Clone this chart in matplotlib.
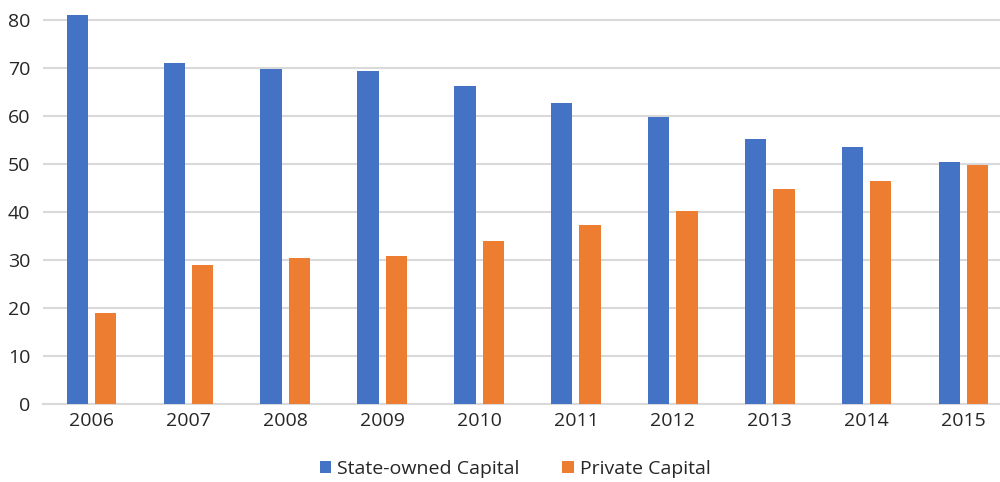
import matplotlib.pyplot as plt
import numpy as np

plt.rcParams["font.family"] = ["Open Sans", "DejaVu Sans"]

years = ["2006", "2007", "2008", "2009", "2010", "2011", "2012", "2013", "2014", "2015"]
state_owned = [81.0, 70.9, 69.7, 69.2, 66.1, 62.7, 59.8, 55.1, 53.5, 50.4]
private = [19.0, 29.0, 30.4, 30.7, 33.9, 37.3, 40.2, 44.8, 46.5, 49.7]

COR_ESTATAL = "#4472C4"
COR_PRIVADO = "#ED7D31"
COR_TEXTO = "#262626"
COR_GRADE = "#D9D9D9"

fig = plt.figure(figsize=(10, 4.82), dpi=100)
# plot area runs a little past the right and top edges of the canvas
ax = fig.add_axes([0.043, 0.1618, 0.969, 0.8973])

x = np.arange(len(years))
largura = 0.22
desloc = 0.146

ax.bar(x - desloc, state_owned, largura, color=COR_ESTATAL, label="State-owned Capital", zorder=3)
ax.bar(x + desloc, private, largura, color=COR_PRIVADO, label="Private Capital", zorder=3)

ax.set_xlim(-0.5, len(years) - 0.5)
ax.set_ylim(0, 90)
ax.set_yticks(np.arange(0, 81, 10))
ax.set_xticks(x)
ax.set_xticklabels(years)

ax.yaxis.grid(True, color=COR_GRADE, linewidth=1.5, zorder=0)
ax.set_axisbelow(True)
for lado in ["top", "right", "left"]:
    ax.spines[lado].set_visible(False)
ax.spines["bottom"].set_color(COR_GRADE)
ax.spines["bottom"].set_linewidth(1.5)

ax.tick_params(axis="both", length=0, labelsize=14, colors=COR_TEXTO)
ax.tick_params(axis="y", pad=9)
ax.tick_params(axis="x", pad=6)

fig.legend(
    loc="center",
    bbox_to_anchor=(0.515, 1 - 469 / 482),
    ncol=2,
    frameon=False,
    fontsize=14,
    handlelength=0.6,
    handleheight=0.6,
    handletextpad=0.3,
    columnspacing=2.2,
    labelcolor=COR_TEXTO,
)

fig.savefig("out.png", dpi=100)
